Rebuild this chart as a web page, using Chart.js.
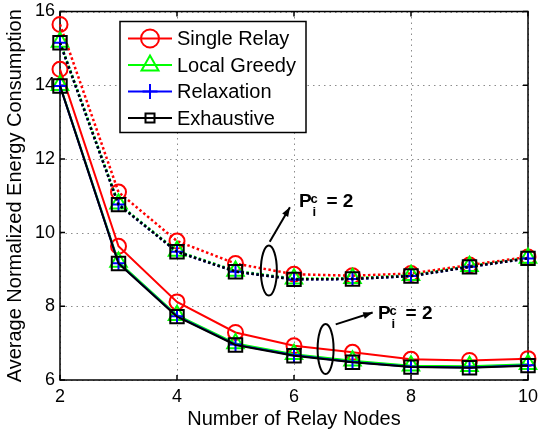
<!DOCTYPE html>
<html>
<head>
<meta charset="utf-8">
<script src="https://cdn.jsdelivr.net/npm/chart.js@4.4.0/dist/chart.umd.min.js"></script>
<style>
  html, body { margin: 0; padding: 0; background: #fff; }
  #wrap { width: 542px; height: 432px; }
</style>
</head>
<body>
<div id="wrap"><canvas id="energyChart" width="542" height="432"></canvas></div>
<script>
// Data
const relayNodes = [2, 3, 4, 5, 6, 7, 8, 9, 10];
const xTicks = [2, 4, 6, 8, 10];
const yTicks = [6, 8, 10, 12, 14, 16];

// upper group (dotted lines)
const singleRelayHigh = [15.65, 11.10, 9.77, 9.16, 8.87, 8.83, 8.89, 9.12, 9.34];
const localGreedyHigh = [15.17, 10.78, 9.50, 8.96, 8.75, 8.76, 8.84, 9.09, 9.31];
const relaxationHigh  = [15.15, 10.76, 9.48, 8.94, 8.73, 8.74, 8.82, 9.07, 9.30];
const exhaustiveHigh  = [15.15, 10.76, 9.48, 8.94, 8.73, 8.74, 8.82, 9.07, 9.30];

// lower group (solid lines)
const singleRelayLow = [14.43, 9.63, 8.12, 7.29, 6.93, 6.75, 6.56, 6.53, 6.58];
const localGreedyLow = [14.00, 9.20, 7.76, 6.99, 6.70, 6.52, 6.39, 6.37, 6.43];
const relaxationLow  = [13.98, 9.17, 7.73, 6.96, 6.67, 6.49, 6.36, 6.34, 6.40];
const exhaustiveLow  = [13.98, 9.16, 7.72, 6.95, 6.66, 6.48, 6.35, 6.33, 6.39];

const seriesNames = ['Single Relay', 'Local Greedy', 'Relaxation', 'Exhaustive'];
const seriesColors = ['#ff0000', '#00ff00', '#0000ff', '#000000'];
const seriesMarkers = ['circle', 'triangle', 'cross', 'rect'];
const markerSizes = [7.5, 9.5, 7, 9.5];

const FONT = '"Liberation Sans", Arial, Helvetica, sans-serif';

function makeDataset(values, i, dotted) {
    return {
        label: seriesNames[i] + (dotted ? ' (dotted)' : ''),
        data: values.map((v, k) => ({ x: relayNodes[k], y: v })),
        borderColor: seriesColors[i],
        backgroundColor: 'rgba(0,0,0,0)',
        borderWidth: dotted ? 2.5 : 2,
        borderDash: dotted ? [2.5, 2.5] : [],
        pointStyle: seriesMarkers[i],
        pointRadius: markerSizes[i],
        pointBorderWidth: 2,
        pointBorderColor: seriesColors[i],
        pointBackgroundColor: 'rgba(0,0,0,0)',
        tension: 0,
        clip: false,
        order: 4 - i
    };
}

// grid, box and inward ticks, MATLAB style
const matlabFrame = {
    id: 'matlabFrame',
    beforeDatasetsDraw(chart) {
        const { ctx, chartArea: a, scales: { x, y } } = chart;
        ctx.save();
        ctx.strokeStyle = '#8c8c8c';
        ctx.lineWidth = 1;
        ctx.setLineDash([1.5, 4]);
        xTicks.forEach(v => {
            const px = Math.round(x.getPixelForValue(v)) + 0.5;
            ctx.beginPath(); ctx.moveTo(px, a.top); ctx.lineTo(px, a.bottom); ctx.stroke();
        });
        yTicks.forEach(v => {
            const py = Math.round(y.getPixelForValue(v)) + 0.5;
            ctx.beginPath(); ctx.moveTo(a.left, py); ctx.lineTo(a.right, py); ctx.stroke();
        });
        ctx.setLineDash([]);
        ctx.strokeStyle = '#000';
        ctx.lineWidth = 1.5;
        ctx.strokeRect(a.left, a.top, a.right - a.left, a.bottom - a.top);
        const tl = 5;
        xTicks.forEach(v => {
            const px = x.getPixelForValue(v);
            ctx.beginPath();
            ctx.moveTo(px, a.bottom); ctx.lineTo(px, a.bottom - tl);
            ctx.moveTo(px, a.top); ctx.lineTo(px, a.top + tl);
            ctx.stroke();
        });
        yTicks.forEach(v => {
            const py = y.getPixelForValue(v);
            ctx.beginPath();
            ctx.moveTo(a.left, py); ctx.lineTo(a.left + tl, py);
            ctx.moveTo(a.right, py); ctx.lineTo(a.right - tl, py);
            ctx.stroke();
        });
        ctx.restore();
    }
};

function drawMarker(ctx, kind, cx, cy) {
    ctx.beginPath();
    if (kind === 'circle') {
        ctx.arc(cx, cy, 9, 0, Math.PI * 2);
    } else if (kind === 'triangle') {
        ctx.moveTo(cx, cy - 9.5);
        ctx.lineTo(cx + 8.5, cy + 5.5);
        ctx.lineTo(cx - 8.5, cy + 5.5);
        ctx.closePath();
    } else if (kind === 'cross') {
        ctx.moveTo(cx - 7.5, cy); ctx.lineTo(cx + 7.5, cy);
        ctx.moveTo(cx, cy - 7.5); ctx.lineTo(cx, cy + 7.5);
    } else {
        ctx.rect(cx - 4.5, cy - 4.5, 9, 9);
    }
    ctx.stroke();
}

const matlabLegend = {
    id: 'matlabLegend',
    afterDatasetsDraw(chart) {
        const { ctx, chartArea: a } = chart;
        const bx = a.left + 60, by = a.top + 10, bw = 186, bh = 111;
        ctx.save();
        ctx.fillStyle = '#fff';
        ctx.fillRect(bx, by, bw, bh);
        ctx.strokeStyle = '#000';
        ctx.lineWidth = 1.5;
        ctx.strokeRect(bx, by, bw, bh);
        ctx.font = '20px ' + FONT;
        ctx.textBaseline = 'middle';
        seriesNames.forEach((name, i) => {
            const cy = by + 17 + i * 26.5;
            ctx.strokeStyle = seriesColors[i];
            ctx.lineWidth = 2;
            ctx.beginPath(); ctx.moveTo(bx + 8, cy); ctx.lineTo(bx + 52, cy); ctx.stroke();
            drawMarker(ctx, seriesMarkers[i], bx + 30, cy);
            ctx.fillStyle = '#000';
            ctx.fillText(name, bx + 57, cy + 1);
        });
        ctx.restore();
    }
};

// ellipse + arrow + "P_i^c = 2" labels, anchored in data units
const annotations = [
    { ex: 5.57, ey: 8.97, ax0: 5.585, ay0: 9.75, ax1: 5.93, ay1: 10.69, tx: 6.085, ty: 10.70 },
    { ex: 6.54, ey: 6.84, ax0: 6.713, ay0: 7.51, ax1: 7.345, ay1: 7.83, tx: 7.436, ty: 7.65 }
];

const matlabNotes = {
    id: 'matlabNotes',
    afterDatasetsDraw(chart) {
        const { ctx, scales: { x, y } } = chart;
        ctx.save();
        ctx.strokeStyle = '#000';
        ctx.fillStyle = '#000';
        ctx.lineWidth = 2;
        annotations.forEach(n => {
            ctx.beginPath();
            ctx.ellipse(x.getPixelForValue(n.ex), y.getPixelForValue(n.ey), 8, 25, 0, 0, Math.PI * 2);
            ctx.stroke();
            const x0 = x.getPixelForValue(n.ax0), y0 = y.getPixelForValue(n.ay0);
            const x1 = x.getPixelForValue(n.ax1), y1 = y.getPixelForValue(n.ay1);
            ctx.beginPath(); ctx.moveTo(x0, y0); ctx.lineTo(x1, y1); ctx.stroke();
            const ang = Math.atan2(y1 - y0, x1 - x0);
            ctx.beginPath();
            ctx.moveTo(x1, y1);
            ctx.lineTo(x1 - 10 * Math.cos(ang - 0.35), y1 - 10 * Math.sin(ang - 0.35));
            ctx.lineTo(x1 - 10 * Math.cos(ang + 0.35), y1 - 10 * Math.sin(ang + 0.35));
            ctx.closePath();
            ctx.fill();
            const tx = x.getPixelForValue(n.tx), ty = y.getPixelForValue(n.ty);
            ctx.textBaseline = 'alphabetic';
            ctx.font = 'bold 19px ' + FONT;
            ctx.fillText('P', tx, ty);
            ctx.font = 'bold 13px ' + FONT;
            ctx.fillText('c', tx + 11.5, ty - 4);
            ctx.fillText('i', tx + 13.5, ty + 9);
            ctx.font = 'bold 19px ' + FONT;
            ctx.fillText('= 2', tx + 27.5, ty);
        });
        ctx.restore();
    }
};

const datasets = [
    makeDataset(singleRelayHigh, 0, true),
    makeDataset(localGreedyHigh, 1, true),
    makeDataset(relaxationHigh, 2, true),
    makeDataset(exhaustiveHigh, 3, true),
    makeDataset(singleRelayLow, 0, false),
    makeDataset(localGreedyLow, 1, false),
    makeDataset(relaxationLow, 2, false),
    makeDataset(exhaustiveLow, 3, false)
];

new Chart(document.getElementById('energyChart'), {
    type: 'line',
    data: { datasets },
    options: {
        responsive: false,
        devicePixelRatio: 1,
        animation: false,
        layout: { padding: { top: 10, right: 14, left: 0, bottom: 0 } },
        plugins: { legend: { display: false }, tooltip: { enabled: false } },
        scales: {
            x: {
                type: 'linear', min: 2, max: 10,
                afterBuildTicks: s => { s.ticks = xTicks.map(v => ({ value: v })); },
                afterFit: s => { s.height = 52; s.paddingLeft = 0; s.paddingRight = 0; },
                grid: { display: false, drawTicks: false },
                border: { display: false },
                ticks: { color: '#000', font: { family: FONT, size: 18 }, padding: 6, maxRotation: 0 },
                title: { display: true, text: 'Number of Relay Nodes', color: '#000',
                         font: { family: FONT, size: 20 }, padding: { top: 0, bottom: 1 } }
            },
            y: {
                type: 'linear', min: 6, max: 16,
                afterBuildTicks: s => { s.ticks = yTicks.map(v => ({ value: v })); },
                afterFit: s => { s.width = 60; s.paddingTop = 0; s.paddingBottom = 0; },
                grid: { display: false, drawTicks: false },
                border: { display: false },
                ticks: { color: '#000', font: { family: FONT, size: 18 }, padding: 5 },
                title: { display: true, text: 'Average Normalized Energy Consumption', color: '#000',
                         font: { family: FONT, size: 20 }, padding: { top: 3, bottom: 0 } }
            }
        }
    },
    plugins: [matlabFrame, matlabLegend, matlabNotes]
});
</script>
</body>
</html>
